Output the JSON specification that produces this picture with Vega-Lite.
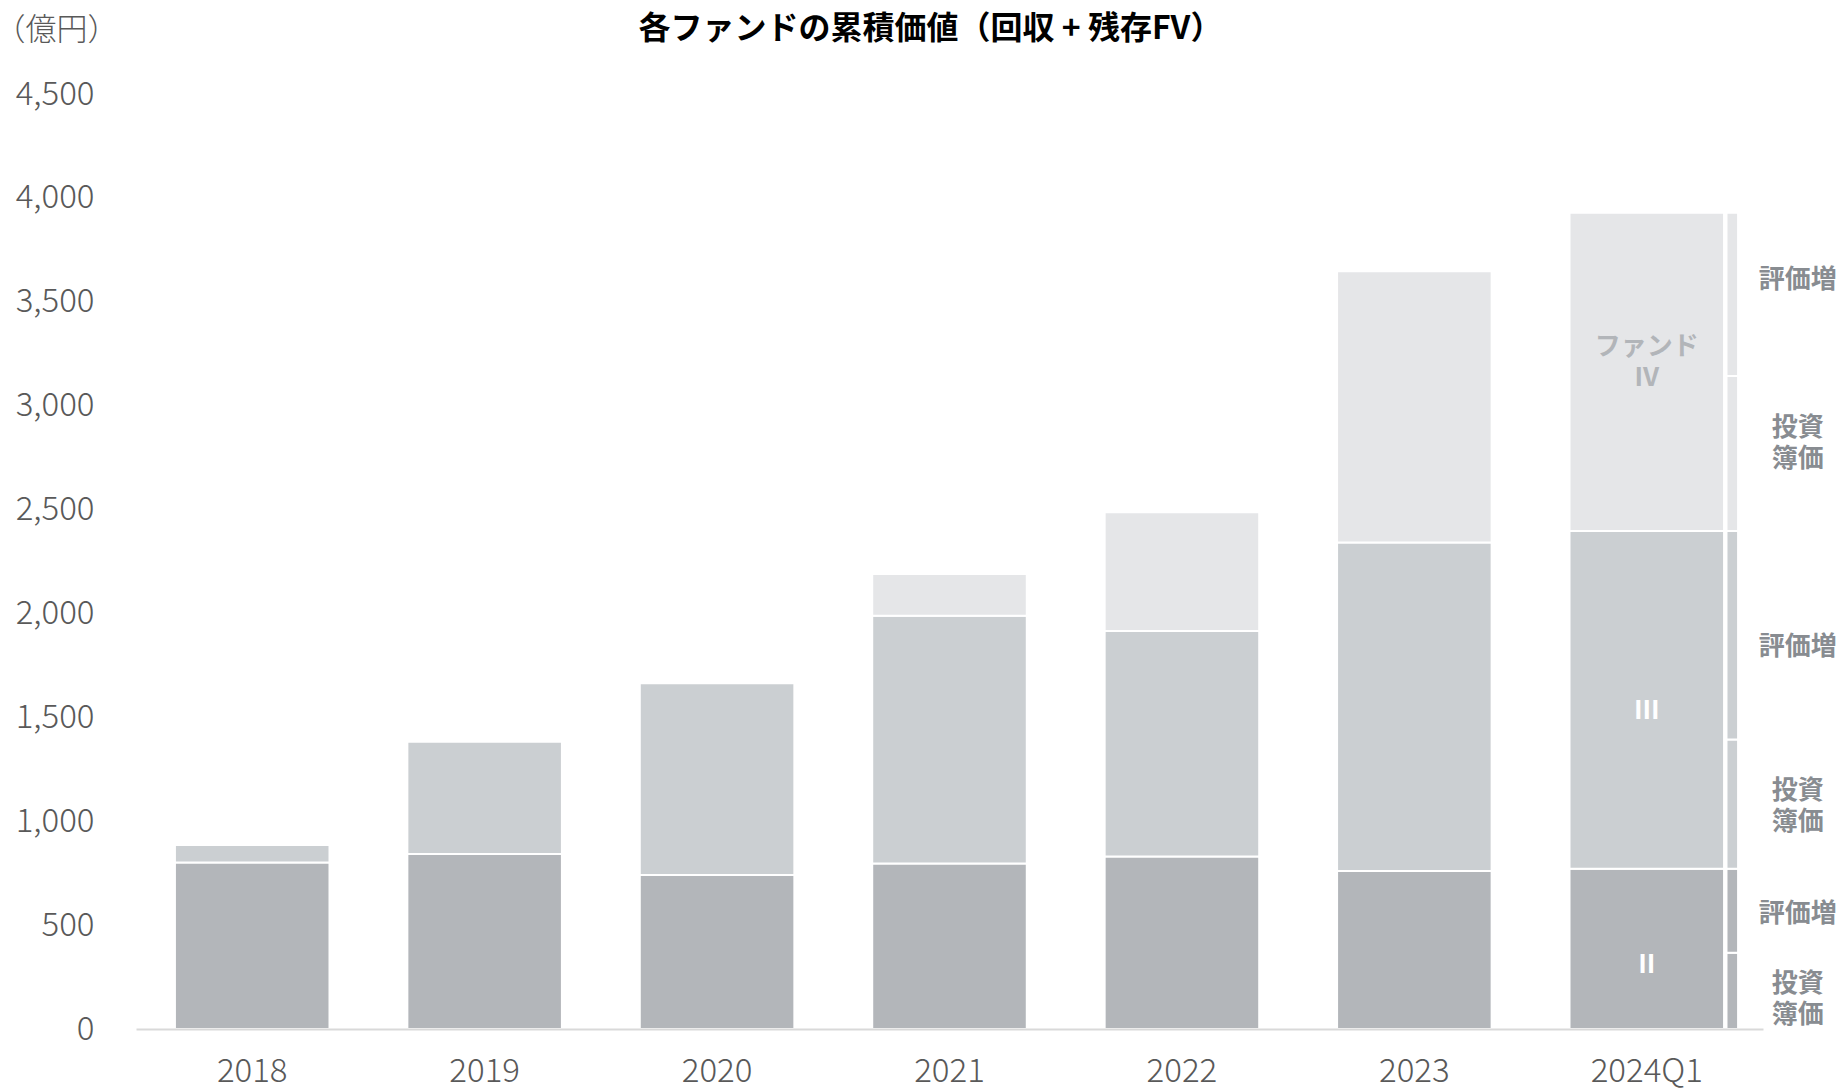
{
  "$schema": "https://vega.github.io/schema/vega-lite/v6.json",
  "autosize": {"type": "none"},
  "width": 1627,
  "height": 935,
  "padding": {"left": 136, "top": 94, "right": 80, "bottom": 59},
  "background": "white",
  "config": {"view": {"stroke": null}, "font": "Noto Sans CJK JP"},
  "title": {
    "text": "各ファンドの累積価値（回収 + 残存FV）",
    "anchor": "middle",
    "frame": "group",
    "dx": -19,
    "offset": -32,
    "fontSize": 32,
    "fontWeight": "bold",
    "color": "#000000",
    "font": "Noto Sans CJK JP"
  },
  "datasets": {
    "main": [
      {"period": "2018", "fund": "II", "value": 801},
      {"period": "2018", "fund": "III", "value": 85},
      {"period": "2019", "fund": "II", "value": 842},
      {"period": "2019", "fund": "III", "value": 541},
      {"period": "2020", "fund": "II", "value": 741},
      {"period": "2020", "fund": "III", "value": 923},
      {"period": "2021", "fund": "II", "value": 797},
      {"period": "2021", "fund": "III", "value": 1192},
      {"period": "2021", "fund": "IV", "value": 201},
      {"period": "2022", "fund": "II", "value": 830},
      {"period": "2022", "fund": "III", "value": 1086},
      {"period": "2022", "fund": "IV", "value": 571},
      {"period": "2023", "fund": "II", "value": 761},
      {"period": "2023", "fund": "III", "value": 1581},
      {"period": "2023", "fund": "IV", "value": 1305},
      {"period": "2024Q1", "fund": "II", "value": 771},
      {"period": "2024Q1", "fund": "III", "value": 1626},
      {"period": "2024Q1", "fund": "IV", "value": 1531}
    ],
    "breakdown": [
      {"period": "2024Q1", "fund": "II", "part": "II-投資簿価", "value": 367},
      {"period": "2024Q1", "fund": "II", "part": "II-評価増", "value": 404},
      {"period": "2024Q1", "fund": "III", "part": "III-投資簿価", "value": 622},
      {"period": "2024Q1", "fund": "III", "part": "III-評価増", "value": 1004},
      {"period": "2024Q1", "fund": "IV", "part": "IV-投資簿価", "value": 746},
      {"period": "2024Q1", "fund": "IV", "part": "IV-評価増", "value": 785}
    ],
    "fundLabelIV": [
      {"period": "2024Q1", "label": "ファンド\nIV", "pos": 3283}
    ],
    "fundLabels": [
      {"period": "2024Q1", "label": "III", "pos": 1530},
      {"period": "2024Q1", "label": "II", "pos": 307}
    ],
    "sideLabels": [
      {"period": "2024Q1", "label": "評価増", "pos": 3604},
      {"period": "2024Q1", "label": "投資\n簿価", "pos": 2893},
      {"period": "2024Q1", "label": "評価増", "pos": 1840},
      {"period": "2024Q1", "label": "投資\n簿価", "pos": 1145},
      {"period": "2024Q1", "label": "評価増", "pos": 552},
      {"period": "2024Q1", "label": "投資\n簿価", "pos": 217}
    ]
  },
  "encoding": {
    "x": {
      "field": "period",
      "type": "nominal",
      "scale": {"paddingInner": 0.335, "paddingOuter": 0.1675},
      "axis": {
        "title": null,
        "labelAngle": 0,
        "ticks": false,
        "tickSize": 0,
        "labelPadding": 42,
        "labelBaseline": "middle",
        "labelFontSize": 33,
        "labelFont": "Noto Sans CJK JP",
        "labelFontWeight": 300,
        "labelColor": "#595959",
        "domainColor": "#d9d9d9",
        "domainWidth": 2,
        "zindex": 1
      }
    }
  },
  "layer": [
    {
      "data": {"name": "main"},
      "mark": {"type": "bar", "stroke": "white", "strokeWidth": 2},
      "encoding": {
        "y": {
          "field": "value",
          "type": "quantitative",
          "stack": "zero",
          "scale": {"domain": [0, 4500], "nice": false},
          "axis": {
            "title": "（億円）",
            "titleAngle": 0,
            "titleX": -80,
            "titleY": -64,
            "titleAlign": "center",
            "titleBaseline": "middle",
            "titleFontSize": 31,
            "titleFontWeight": 300,
            "titleFont": "Noto Sans CJK JP",
            "titleColor": "#595959",
            "values": [0, 500, 1000, 1500, 2000, 2500, 3000, 3500, 4000, 4500],
            "format": ",d",
            "domain": false,
            "ticks": false,
            "tickSize": 0,
            "grid": false,
            "labelPadding": 42,
            "labelFontSize": 33,
            "labelFont": "Noto Sans CJK JP",
            "labelFontWeight": 300,
            "labelColor": "#595959"
          }
        },
        "color": {
          "field": "fund",
          "type": "nominal",
          "scale": {"domain": ["II", "III", "IV"], "range": ["#b3b6ba", "#cbcfd2", "#e5e6e8"]},
          "legend": null
        },
        "order": {"field": "fund", "sort": "ascending"}
      }
    },
    {
      "data": {"name": "breakdown"},
      "mark": {"type": "bar", "width": 11.6, "xOffset": 85.5, "stroke": "white", "strokeWidth": 2},
      "encoding": {
        "y": {"field": "value", "type": "quantitative", "stack": "zero"},
        "color": {"field": "fund", "type": "nominal", "legend": null},
        "detail": {"field": "part"},
        "order": {"field": "part", "sort": "ascending"}
      }
    },
    {
      "data": {"name": "fundLabelIV"},
      "mark": {"type": "text", "align": "center", "baseline": "middle", "lineBreak": "\n", "lineHeight": 31, "fontSize": 26, "fontWeight": "bold", "color": "#b2b5b9", "font": "Noto Sans CJK JP"},
      "encoding": {
        "y": {"field": "pos", "type": "quantitative"},
        "text": {"field": "label"}
      }
    },
    {
      "data": {"name": "fundLabels"},
      "mark": {"type": "text", "align": "center", "baseline": "middle", "fontSize": 26, "fontWeight": "bold", "color": "#ffffff", "font": "Noto Sans CJK JP"},
      "encoding": {
        "y": {"field": "pos", "type": "quantitative"},
        "text": {"field": "label"}
      }
    },
    {
      "data": {"name": "sideLabels"},
      "mark": {"type": "text", "align": "center", "baseline": "middle", "xOffset": 151, "lineBreak": "\n", "lineHeight": 31, "fontSize": 26, "fontWeight": "bold", "color": "#888c91", "font": "Noto Sans CJK JP"},
      "encoding": {
        "y": {"field": "pos", "type": "quantitative"},
        "text": {"field": "label"}
      }
    }
  ]
}
